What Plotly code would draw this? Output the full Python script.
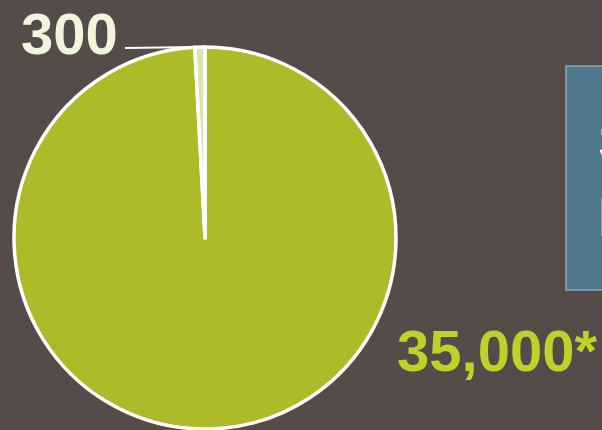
import plotly.graph_objects as go

W, H = 602, 430
labels = ["Other", "Small"]
values = [35000, 300]
label_texts = ["35,000*", "300"]
slice_colors = ["#acbb27", "#dde3ad"]
box_lines = ["Species", "Identified"]

BG = "#554b48"

cx, cy, r = 205, 238, 191

fig = go.Figure(go.Pie(
    labels=labels, values=values, sort=False, direction="clockwise", rotation=0,
    marker=dict(colors=slice_colors, line=dict(color="white", width=3.5)),
    textinfo="none", hoverinfo="label+value", showlegend=False,
    domain=dict(x=[(cx - r) / W, (cx + r) / W], y=[(H - cy - r) / H, (H - cy + r) / H]),
))

def px(x):
    return x / W

def py(y):
    return 1 - y / H

shapes = [
    dict(type="rect", xref="paper", yref="paper", x0=px(566), x1=px(620), y0=py(290), y1=py(66),
         fillcolor="#50788f", line=dict(color="#8ba7b8", width=1.5), layer="below"),
    dict(type="line", xref="paper", yref="paper", x0=px(125), x1=px(195), y0=py(48), y1=py(47),
         line=dict(color="white", width=2)),
]

FONT = "Liberation Sans, Arial"
annotations = [
    dict(text="<b>%s</b>" % label_texts[1], x=px(19), y=py(33), xref="paper", yref="paper", xanchor="left", yanchor="middle",
         showarrow=False, font=dict(family=FONT, size=58, color="#f1f5d9")),
    dict(text="<b>%s</b>" % label_texts[0], x=px(395), y=py(350), xref="paper", yref="paper", xanchor="left", yanchor="middle",
         showarrow=False, font=dict(family=FONT, size=58, color="#c0d12a")),
    dict(text="<b>%s</b>" % box_lines[0], x=px(596), y=py(140), xref="paper", yref="paper", xanchor="left", yanchor="middle",
         showarrow=False, font=dict(family=FONT, size=56, color="white")),
    dict(text="<b>%s</b>" % box_lines[1], x=px(596), y=py(216), xref="paper", yref="paper", xanchor="left", yanchor="middle",
         showarrow=False, font=dict(family=FONT, size=56, color="white")),
]

fig.update_layout(
    width=W, height=H, margin=dict(l=0, r=0, t=0, b=0),
    paper_bgcolor=BG, plot_bgcolor=BG,
    shapes=shapes, annotations=annotations,
)

fig.write_html("out.html")
